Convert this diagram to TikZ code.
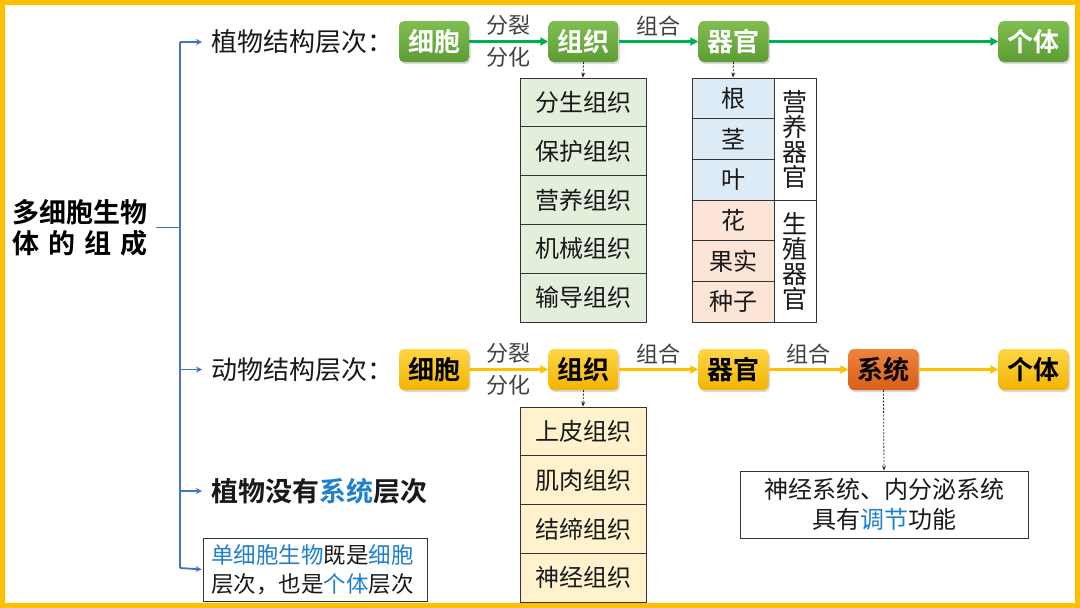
\documentclass[tikz,border=0pt]{standalone}
\usepackage{fontspec}
\setmainfont{Noto Sans CJK SC}[BoldFont={Noto Sans CJK SC Bold}]
\usetikzlibrary{shadows,arrows.meta}
\definecolor{frameY}{RGB}{255,192,0}
\definecolor{brBlue}{RGB}{68,114,196}
\definecolor{arG}{RGB}{0,176,80}
\definecolor{arY}{RGB}{255,192,0}
\definecolor{txtBlue}{RGB}{31,128,205}
\definecolor{lgreen}{RGB}{226,239,218}
\definecolor{lblue}{RGB}{221,235,247}
\definecolor{lorange}{RGB}{252,228,214}
\definecolor{lyellow}{RGB}{255,242,204}
\definecolor{gTop}{RGB}{128,190,80}
\definecolor{gBot}{RGB}{92,156,52}
\definecolor{yTop}{RGB}{255,214,70}
\definecolor{yBot}{RGB}{242,180,0}
\definecolor{oTop}{RGB}{240,130,60}
\definecolor{oBot}{RGB}{215,95,25}
\definecolor{labGray}{RGB}{64,64,64}
\definecolor{txtDark}{RGB}{25,25,25}
\begin{document}
\begin{tikzpicture}[x=1pt,y=-1pt,
  lbl/.style={font=\fontsize{26}{30}\selectfont, anchor=west, inner sep=0pt, text=txtDark},
  gbox/.style={rounded corners=5pt, minimum width=70, minimum height=41, inner sep=0pt,
    top color=gTop, bottom color=gBot, text=white, font=\fontsize{26}{30}\selectfont\bfseries,
    drop shadow={opacity=0.3, shadow xshift=1.5pt, shadow yshift=-2pt}},
  ybox/.style={gbox, top color=yTop, bottom color=yBot, text=black},
  obox/.style={gbox, top color=oTop, bottom color=oBot, text=black},
  garr/.style={draw=arG, line width=2.5pt, -{Triangle[length=8pt,width=8pt]}},
  yarr/.style={garr, draw=arY},
  alab/.style={font=\fontsize{22}{26}\selectfont, text=labGray, inner sep=4.5pt},
  dasharr/.style={draw=black!85, dash pattern=on 2pt off 1.5pt, line width=0.8pt, -{Stealth[length=5pt,width=4pt]}},
  cell/.style={draw=black!80, line width=0.8pt, minimum width=126, minimum height=48.8, inner sep=0pt,
    font=\fontsize{24}{28}\selectfont, text=txtDark},
  brk/.style={draw=brBlue, line width=1.8pt},
  brkarr/.style={brk, -{Stealth[length=6pt,width=6pt]}}
]
\fill[white] (0,0) rectangle (1080,608);
\useasboundingbox (0,0) rectangle (1080,608);
\draw[frameY, line width=5pt] (2.5,2.5) rectangle (1077.5,605.5);

% title
\node[font=\fontsize{27}{31}\selectfont\bfseries, align=center, inner sep=0pt] (title) at (80,227.5)
  {多细胞生物\\\makebox[5em][s]{体 的 组 成}};

% bracket
\coordinate (bj) at (180,227.5);
\coordinate (b1) at (180,42);
\coordinate (b2) at (180,369.5);
\coordinate (b3) at (180,491);
\coordinate (b4) at (180,568);
\draw[brk] ([xshift=8pt]title.east) -- (bj);
\draw[brk] (b1) -- (b4);

% plant row
\node[lbl] (p1) at (211,42) {植物结构层次：};
\node[gbox] (c1) at (434,41.5) {细胞};
\node[gbox] (t1) at (583.5,41.5) {组织};
\node[gbox] (o1) at (733.5,41.5) {器官};
\node[gbox] (i1) at (1033.5,41.5) {个体};
\draw[garr] (c1) -- node[alab, above] {分裂} node[alab, below] {分化} (t1);
\draw[garr] (t1) -- node[alab, above] {组合} (o1);
\draw[garr] (o1) -- (i1);

% plant tissues table
\node[cell, fill=lgreen] (ta) at (583,102.4) {分生组织};
\node[cell, fill=lgreen] (tb) at (583,151.2) {保护组织};
\node[cell, fill=lgreen] (tc) at (583,200.0) {营养组织};
\node[cell, fill=lgreen] (td) at (583,248.8) {机械组织};
\node[cell, fill=lgreen] (te) at (583,297.6) {输导组织};
\draw[dasharr] (t1.south) -- (ta.north);

% plant organs table
\tikzset{ocell/.style={cell, minimum width=82, minimum height=40.67}}
\node[ocell, fill=lblue] (oa) at (733,98.3) {根};
\node[ocell, fill=lblue] (ob) at (733,139.0) {茎};
\node[ocell, fill=lblue] (oc) at (733,179.7) {叶};
\node[ocell, fill=lorange] (od) at (733,220.3) {花};
\node[ocell, fill=lorange] (oe) at (733,261.0) {果实};
\node[ocell, fill=lorange] (of) at (733,301.7) {种子};
\node[cell, minimum width=42, minimum height=122, fill=white, align=center, font=\fontsize{25}{25}\selectfont] (ov) at (795,139) {营\\养\\器\\官};
\node[cell, minimum width=42, minimum height=122, fill=white, align=center, font=\fontsize{25}{25}\selectfont] (or) at (795,261) {生\\殖\\器\\官};
\draw[dasharr] (o1.south) -- (oa.north);

% animal row
\node[lbl] (p2) at (211,369.5) {动物结构层次：};
\node[ybox] (c2) at (434,369.5) {细胞};
\node[ybox] (t2) at (583.5,369.5) {组织};
\node[ybox] (o2) at (733.5,369.5) {器官};
\node[obox] (s2) at (883.5,369.5) {系统};
\node[ybox] (i2) at (1033.5,369.5) {个体};
\draw[yarr] (c2) -- node[alab, above] {分裂} node[alab, below] {分化} (t2);
\draw[yarr] (t2) -- node[alab, above] {组合} (o2);
\draw[yarr] (o2) -- node[alab, above] {组合} (s2);
\draw[yarr] (s2) -- (i2);

% animal tissues
\node[cell, fill=lyellow, minimum height=48.75] (aa) at (583,431.4) {上皮组织};
\node[cell, fill=lyellow, minimum height=48.75] (ab) at (583,480.1) {肌肉组织};
\node[cell, fill=lyellow, minimum height=48.75] (ac) at (583,528.9) {结缔组织};
\node[cell, fill=lyellow, minimum height=48.75] (ad) at (583,577.6) {神经组织};
\draw[dasharr] (t2.south) -- (aa.north);

% system note
\node[draw=black!80, line width=0.8pt, minimum width=288, minimum height=67, align=center,
  font=\fontsize{24}{30}\selectfont, text=txtDark] (sys) at (884,504.5)
  {神经系统、内分泌系统\\具有\textcolor{txtBlue}{调节}功能};
\draw[dasharr] (s2.south) -- (sys.north);

% no system
\node[lbl, font=\fontsize{27}{31}\selectfont\bfseries] (p3) at (211,491) {植物没有\textcolor{txtBlue}{系统}层次};

% unicellular
\node[draw=black!80, line width=0.8pt, minimum height=63, inner xsep=8pt, text width=208, align=left,
  font=\fontsize{22.5}{29}\selectfont, text=txtDark] (uni) at (315,569.5)
  {\textcolor{txtBlue}{单细胞生物}既是\textcolor{txtBlue}{细胞}\\层次，也是\textcolor{txtBlue}{个体}层次};

\draw[brkarr, shorten >=9pt] (b1) -- (p1.west);
\draw[brkarr, shorten >=9pt] (b2) -- (p2.west);
\draw[brkarr, shorten >=9pt] (b3) -- (p3.west);
\draw[brkarr, shorten >=1pt] (b4) -- (uni.west);
\end{tikzpicture}
\end{document}
